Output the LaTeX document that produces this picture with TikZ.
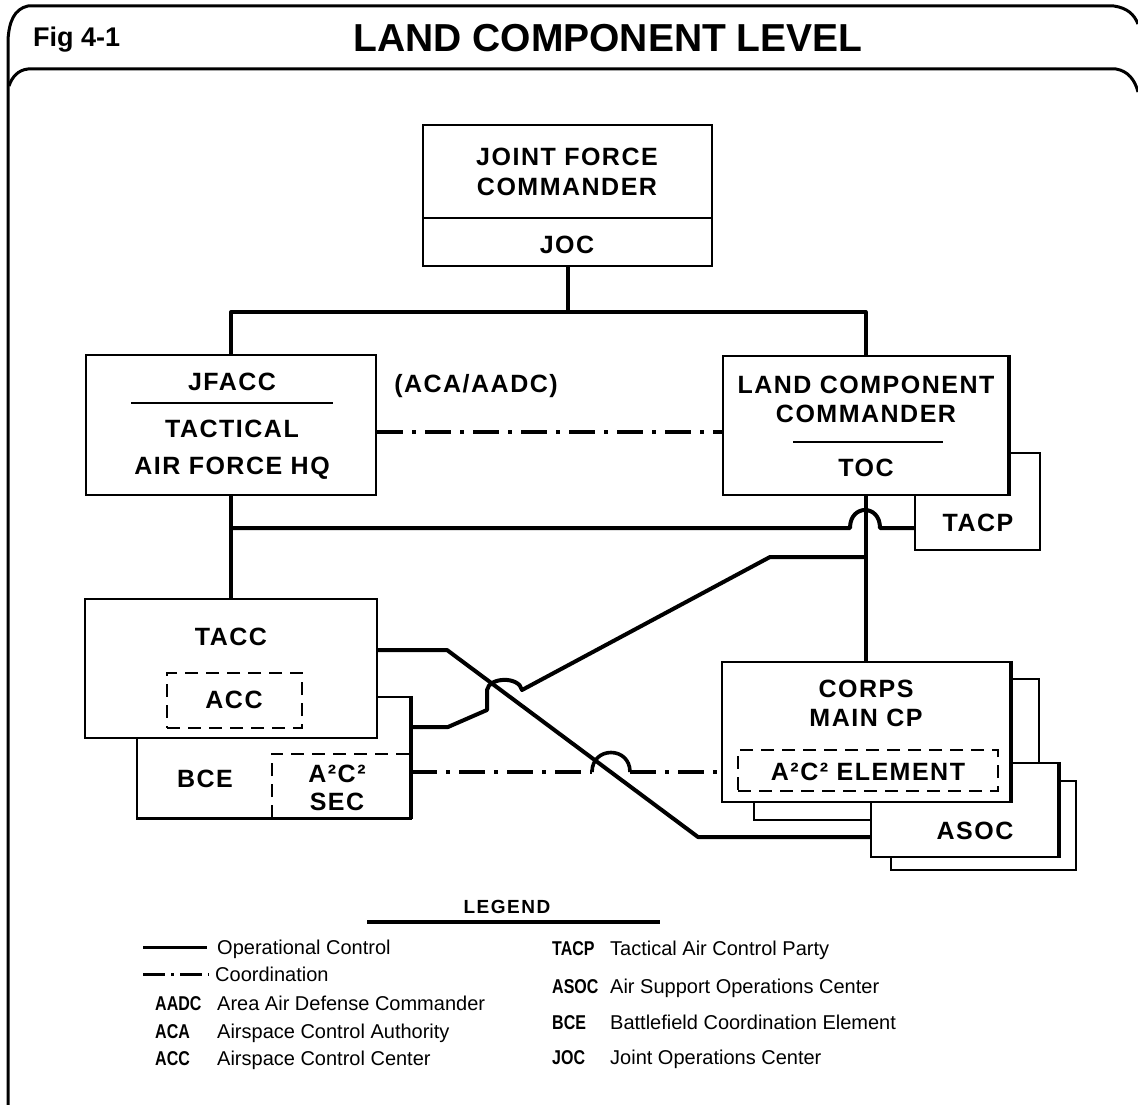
\documentclass[tikz,border=0pt]{standalone}
\usepackage{fontspec}
\setmainfont{Liberation Sans}
\newfontfamily\boxfont[LetterSpace=6]{Liberation Sans}
\newfontfamily\legfont[LetterSpace=8]{Liberation Sans}
\newcommand{\narrowab}[1]{\scalebox{0.8}[1]{#1}}
\begin{document}
\begin{tikzpicture}[x=1pt,y=-1pt,
  box/.style={draw, line width=2.2pt, fill=white, inner sep=0pt},
  dbox/.style={line width=2.6pt, dash pattern=on 13pt off 8pt},
  btxt/.style={font=\boxfont\bfseries\fontsize{25}{30}\selectfont, inner sep=0pt, text height=18pt, text depth=0pt},
  conn/.style={line width=4pt, line join=round},
  coord/.style={line width=3.6pt, dash pattern=on 26pt off 9pt on 4pt off 9pt},
  thickedge/.style={line width=4.5pt},
  frame/.style={line width=3pt},
  ltxt/.style={font=\fontsize{20}{24}\selectfont, inner sep=0pt, text height=14pt, text depth=0pt, anchor=west},
  labbr/.style={font=\bfseries\fontsize{20}{24}\selectfont, inner sep=0pt, text height=14pt, text depth=0pt, anchor=west}
]
\useasboundingbox (0,0) rectangle (1138,1105);

% frame
\draw[frame] (1114,6) -- (28,6) .. controls (14,9) and (9,22) .. (8,40) -- (8,1105);
\draw[frame] (1114,6) .. controls (1127,8) and (1134,14) .. (1138,24);
\draw[frame] (9,86) .. controls (12,77) and (18,70) .. (28,69) -- (1116,69) .. controls (1128,71) and (1135,80) .. (1138,92);

% title
\node[font=\bfseries\fontsize{27}{30}\selectfont, anchor=base west, inner sep=0pt] (fig) at (33,47) {Fig 4-1};
\node[font=\bfseries\fontsize{39}{44}\selectfont, anchor=base, inner sep=0pt] (title) at (608,52) {LAND COMPONENT LEVEL};

% JFC
\node[box, minimum width=289pt, minimum height=141pt] (jfc) at (567.5,195.5) {};
\draw[line width=2.2pt] (jfc.west |- 0,218) -- (jfc.east |- 0,218);
\node[btxt] (jfc1) at (567,157) {JOINT FORCE};
\node[btxt] (jfc2) at (567,186) {COMMANDER};
\node[btxt] (joc) at (567,244) {JOC};

% JFACC
\node[box, minimum width=290pt, minimum height=140pt] (jfacc) at (231,425) {};
\node[btxt] (jf1) at (232,381) {JFACC};
\draw[line width=2.6pt] (131,403) -- (333,403);
\node[btxt] (jf2) at (232,428) {TACTICAL};
\node[btxt] (jf3) at (232,465) {AIR FORCE HQ};

% TACP and LCC
\node[box, minimum width=125pt, minimum height=97pt] (tacp) at (977.5,501.5) {};
\node[btxt] (tacpt) at (978,522) {TACP};
\node[box, minimum width=285pt, minimum height=139pt] (lcc) at (865.5,425.5) {};
\draw[thickedge] (lcc.north east) -- (lcc.south east);
\node[btxt] (lc1) at (866,384) {LAND COMPONENT};
\node[btxt] (lc2) at (866,413) {COMMANDER};
\draw[line width=2.6pt] (793,442) -- (943,442);
\node[btxt] (toc) at (866,467) {TOC};

\node[font=\boxfont\bfseries\fontsize{25}{30}\selectfont, anchor=base, inner sep=0pt] (acaaadc) at (476,392) {(ACA/AADC)};

% BCE and TACC
\node[box, minimum width=273pt, minimum height=121pt] (bce) at (273.5,757.5) {};
\node (a2sec) [inner sep=0pt, minimum width=138pt, minimum height=64pt] at (341,786) {};
\draw[dbox] (a2sec.south west) -- (a2sec.north west) -- (a2sec.north east);
\draw[line width=2.2pt] (bce.north east) -- (bce.south east) -- (bce.south west);
\draw[thickedge] (bce.north east) -- (bce.south east);
\node[btxt] (bcet) at (205,778) {BCE};
\node[btxt] (a2t) at (337,773) {A²C²};
\node[btxt] (sect) at (337,801) {SEC};
\node[box, minimum width=292pt, minimum height=139pt] (tacc) at (231,668.5) {};
\node[btxt] (tacct) at (231,636) {TACC};
\node[draw, dbox, inner sep=0pt, minimum width=135pt, minimum height=55pt] (acc) at (234.5,700.5) {};
\node[btxt] (acct) at (234,699) {ACC};

% CORPS and ASOC
\node[box, minimum width=185pt, minimum height=89pt] (asoc2) at (983.5,825.5) {};
\node[box, minimum width=285pt, minimum height=141pt] (corps2) at (896.5,749.5) {};
\node[box, minimum width=187pt, minimum height=94pt] (asoc) at (964.5,810) {};
\draw[thickedge] (asoc.north east) -- (asoc.south east);
\node[btxt] (asoct) at (975,830) {ASOC};
\node[box, minimum width=288pt, minimum height=140pt] (corps) at (866,732) {};
\draw[thickedge] (corps.north east) -- (corps.south east);
\node[btxt] (co1) at (866,688) {CORPS};
\node[btxt] (co2) at (866,717) {MAIN CP};
\node[draw, dbox, inner sep=0pt, minimum width=260pt, minimum height=41pt] (a2el) at (868,770.5) {};
\node[btxt] (a2elt) at (868,771) {A²C² ELEMENT};

% connectors
\coordinate (busL) at (231,312);
\coordinate (busR) at (865.5,312);
\draw[conn] (jfc.south) -- (jfc.south |- busL);
\draw[conn] (jfacc.north) -- (busL) -- (busR) -- (lcc.north);
\draw[conn] (jfacc.south) -- (tacc.north);
\coordinate (h1) at (231,528);
\draw[conn] (h1) -- (850,528) .. controls (850,504) and (880,504) .. (880,528) -- (tacp.west |- h1);
\draw[conn] (lcc.south) -- (lcc.south |- corps.north);
\draw[coord] (jfacc.east |- 0,432) -- (lcc.west |- 0,432);
\draw[conn] (tacc.east |- 0,650) -- (447,650) -- (698,837) -- (asoc.west |- 0,837);
\draw[conn] (bce.east |- 0,727) -- (448,727) -- (487,710) -- (487,690) .. controls (489,677) and (519,676) .. (522,690) -- (770,557) -- (lcc.south |- 0,557);
\draw[coord] (bce.east |- 0,772) -- (592,772);
\draw[line width=3.6pt] (592,772) .. controls (592,746) and (630,746) .. (630,772);
\draw[coord] (630,772) -- (corps.west |- 0,772);

% legend
\node[font=\legfont\bfseries\fontsize{19}{24}\selectfont, inner sep=0pt, text height=14pt, text depth=0pt] (legend) at (507,906) {LEGEND};
\draw[line width=3.5pt] (367,922) -- (660,922);
\coordinate (ls1) at (143,947);
\coordinate (le1) at (207,947);
\draw[line width=3pt] (ls1) -- (le1);
\node[ltxt] (opc) at (217,947) {Operational Control};
\coordinate (ls2) at (143,974);
\coordinate (le2) at (209,974);
\draw[line width=3pt, dash pattern=on 22pt off 6pt on 3pt off 6pt] (ls2) -- (le2);
\node[ltxt] (coo) at (215,974) {Coordination};
\node[labbr] (aadc) at (155,1003) {\narrowab{AADC}};
\node[ltxt] (aadcd) at (217,1003) {Area Air Defense Commander};
\node[labbr] (aca) at (155,1031) {\narrowab{ACA}};
\node[ltxt] (acad) at (217,1031) {Airspace Control Authority};
\node[labbr] (accl) at (155,1058) {\narrowab{ACC}};
\node[ltxt] (accd) at (217,1058) {Airspace Control Center};
\node[labbr] (tacpl) at (552,948) {\narrowab{TACP}};
\node[ltxt] (tacpd) at (610,948) {Tactical Air Control Party};
\node[labbr] (asocl) at (552,986) {\narrowab{ASOC}};
\node[ltxt] (asocd) at (610,986) {Air Support Operations Center};
\node[labbr] (bcel) at (552,1022) {\narrowab{BCE}};
\node[ltxt] (bced) at (610,1022) {Battlefield Coordination Element};
\node[labbr] (jocl) at (552,1057) {\narrowab{JOC}};
\node[ltxt] (jocd) at (610,1057) {Joint Operations Center};
\end{tikzpicture}
\end{document}
